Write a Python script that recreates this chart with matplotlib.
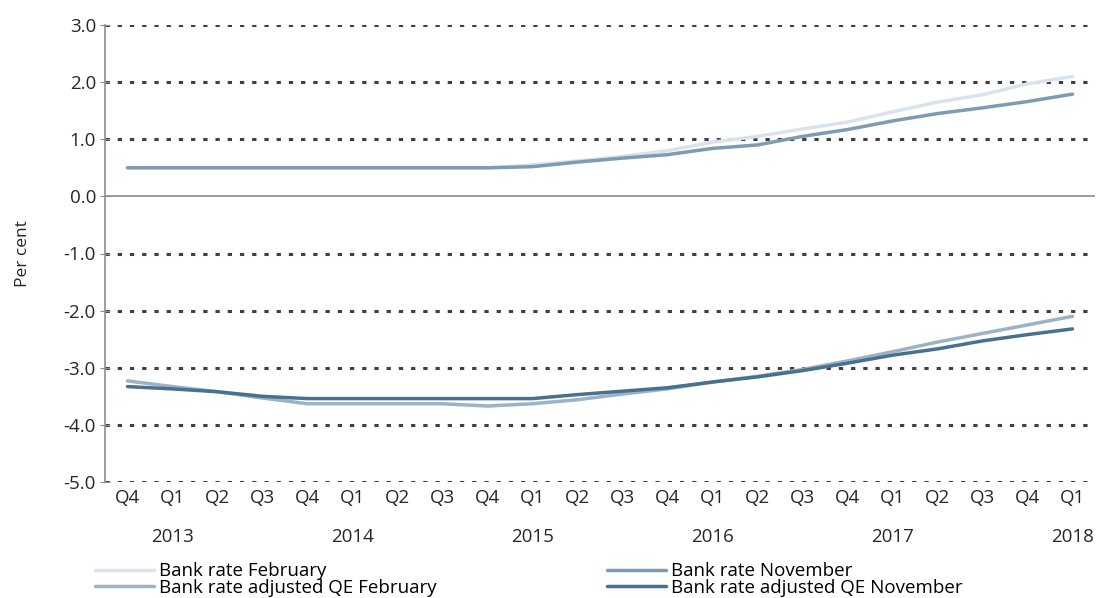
import matplotlib
matplotlib.use("Agg")
import matplotlib.pyplot as plt
import numpy as np

quarters = ["Q4", "Q1", "Q2", "Q3", "Q4", "Q1", "Q2", "Q3", "Q4", "Q1", "Q2",
            "Q3", "Q4", "Q1", "Q2", "Q3", "Q4", "Q1", "Q2", "Q3", "Q4", "Q1"]
years = ["2013", "2014", "2015", "2016", "2017", "2018"]
year_positions = [1, 5, 9, 13, 17, 21]

bank_rate_feb = [0.5, 0.5, 0.5, 0.5, 0.5, 0.5, 0.5, 0.5, 0.5, 0.55, 0.62,
                 0.7, 0.8, 0.95, 1.05, 1.18, 1.3, 1.48, 1.65, 1.78, 1.97, 2.1]
bank_rate_nov = [0.5, 0.5, 0.5, 0.5, 0.5, 0.5, 0.5, 0.5, 0.5, 0.52, 0.6,
                 0.67, 0.73, 0.84, 0.9, 1.05, 1.17, 1.32, 1.45, 1.55, 1.66, 1.79]
qe_feb = [-3.23, -3.33, -3.42, -3.53, -3.63, -3.63, -3.63, -3.63, -3.67, -3.63, -3.56,
          -3.46, -3.37, -3.25, -3.15, -3.03, -2.88, -2.72, -2.55, -2.4, -2.25, -2.1]
qe_nov = [-3.33, -3.37, -3.42, -3.5, -3.54, -3.54, -3.54, -3.54, -3.54, -3.54, -3.47,
          -3.41, -3.35, -3.25, -3.16, -3.05, -2.92, -2.78, -2.67, -2.53, -2.42, -2.32]

labels = ["Bank rate February", "Bank rate November",
          "Bank rate adjusted QE February", "Bank rate adjusted QE November"]
colors = ["#dae3eb", "#7d9bb3", "#9cb3c7", "#48718f"]

plt.rcParams['font.family'] = ['Open Sans', 'DejaVu Sans']
FS = 13.5

fig = plt.figure(figsize=(10.98, 5.98), dpi=100)
ax = fig.add_axes([105/1098, 1-482/598, (1095-105)/1098, 457/598])

x = np.arange(len(quarters))
series = [bank_rate_feb, bank_rate_nov, qe_feb, qe_nov]
handles = []
for s, c, l in zip(series, colors, labels):
    h, = ax.plot(x, s, color=c, lw=2.5, label=l, solid_capstyle='round', zorder=3)
    handles.append(h)

ax.set_xlim(-0.5, len(quarters) - 0.5)
ax.set_ylim(-5.0, 3.0)
yt = np.arange(-5, 4, 1.0)
ax.set_yticks(yt)
ax.set_yticklabels([f"{v:.1f}" for v in yt], fontsize=FS, color="#262626")
for v in yt:
    if v != 0:
        ax.axhline(v, color="#404040", lw=2.2, ls=(0, (1.4, 2.6)), zorder=1)
ax.axhline(0, color="#8c8c8c", lw=1.2, zorder=2)

ax.set_xticks(x)
ax.set_xticklabels(quarters, fontsize=FS, color="#262626")
ax.tick_params(axis='x', length=0, pad=5)
ax.tick_params(axis='y', direction='inout', length=7, color="#8c8c8c", pad=3)

for sp in ["top", "right", "bottom"]:
    ax.spines[sp].set_visible(False)
ax.spines["left"].set_color("#8c8c8c")
ax.spines["left"].set_linewidth(1.2)

for yr, p in zip(years, year_positions):
    ax.annotate(yr, xy=(p, 0), xycoords=ax.get_xaxis_transform(),
                xytext=(0, -39.5), textcoords='offset points',
                ha='center', va='center', fontsize=FS, color="#262626")

ax.set_ylabel("Per cent", fontsize=12.5, color="#262626")
ax.yaxis.set_label_coords(-0.0747, 0.5)

order = [0, 2, 1, 3]
fig.legend([handles[i] for i in order], [labels[i] for i in order],
           loc='upper left', bbox_to_anchor=(86/1098, 1-553/598), ncol=2,
           frameon=False, fontsize=FS, handlelength=3.1, handletextpad=0.3,
           labelspacing=-0.08, columnspacing=9.1, borderpad=0.0)

fig.savefig("out.png", dpi=100)
